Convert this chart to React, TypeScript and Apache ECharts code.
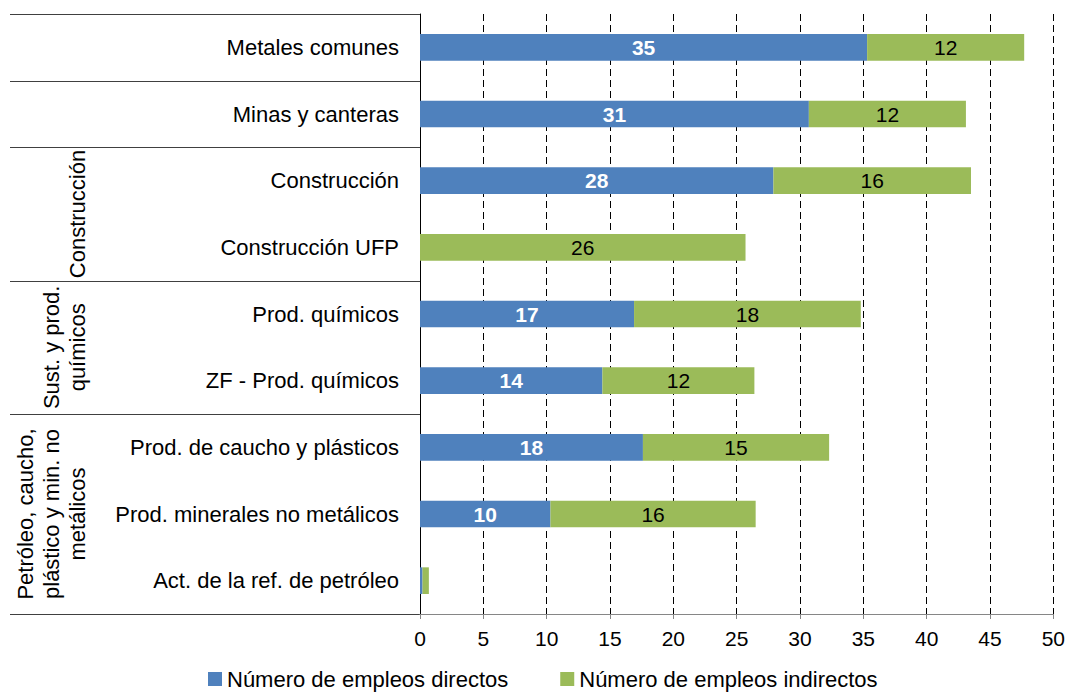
import React, { useEffect, useRef } from "react";
import * as echarts from "echarts";

const categories = [
  "Metales comunes",
  "Minas y canteras",
  "Construcción",
  "Construcción UFP",
  "Prod. químicos",
  "ZF - Prod. químicos",
  "Prod. de caucho y plásticos",
  "Prod. minerales no metálicos",
  "Act. de la ref. de petróleo",
];
const directos = [35.3, 30.7, 27.9, 0, 16.9, 14.4, 17.6, 10.3, 0.2];
const indirectos = [12.4, 12.4, 15.6, 25.7, 17.9, 12.0, 14.7, 16.2, 0.5];
const seriesNames = ["Número de empleos directos", "Número de empleos indirectos"];
const xTicks = { min: 0, max: 50, interval: 5 };

const groupLabels = [
  "Construcción",
  "Sust. y prod.\nquímicos",
  "Petróleo, caucho,\nplástico y min. no\nmetálicos",
];
const groupSpans = [
  [2, 3],
  [4, 5],
  [6, 8],
];
const rowBreaks = [0, 1, 2, 4, 6, 9];

const FONT = "'Liberation Sans', Arial, sans-serif";

export default function App() {
  const ref = useRef<HTMLDivElement>(null);

  useEffect(() => {
    if (!ref.current) return;
    const chart = echarts.init(ref.current, null, { renderer: "svg" });
    const roundLabel = (p: any) => (p.value >= 1 ? String(Math.round(p.value)) : "");
    chart.setOption({
      animation: false,
      textStyle: { fontFamily: FONT },
      grid: { left: 420, right: 14, top: 14, bottom: 80, containLabel: false },
      legend: {
        left: 208,
        top: 667,
        padding: 0,
        itemWidth: 14,
        itemHeight: 14,
        itemGap: 52,
        icon: "rect",
        textStyle: {
          fontSize: 22,
          lineHeight: 24,
          color: "#000",
          fontFamily: FONT,
          padding: [0, 0, 0, 0],
        },
        data: seriesNames,
      },
      xAxis: {
        type: "value",
        min: xTicks.min,
        max: xTicks.max,
        interval: xTicks.interval,
        axisLine: { show: true, lineStyle: { color: "#868686", width: 1 } },
        axisTick: { show: true, length: 5, lineStyle: { color: "#868686" } },
        axisLabel: { fontSize: 21, color: "#000", margin: 14, fontFamily: FONT },
        splitLine: { show: true, lineStyle: { color: "#000", type: [7, 4], width: 1 } },
      },
      yAxis: {
        type: "category",
        inverse: true,
        data: categories,
        axisLine: { show: true, lineStyle: { color: "#000", width: 1 } },
        axisTick: { show: false },
        axisLabel: { fontSize: 22, color: "#000", margin: 21, fontFamily: FONT },
        splitLine: { show: false },
      },
      series: [
        {
          name: seriesNames[0],
          type: "bar",
          stack: "total",
          data: directos,
          barCategoryGap: "60%",
          itemStyle: { color: "#4F81BD" },
          label: {
            show: true,
            position: "inside",
            color: "#fff",
            fontWeight: "bold",
            fontSize: 21,
            fontFamily: FONT,
            formatter: roundLabel,
          },
        },
        {
          name: seriesNames[1],
          type: "bar",
          stack: "total",
          data: indirectos,
          barCategoryGap: "60%",
          itemStyle: { color: "#9BBB59" },
          label: {
            show: true,
            position: "inside",
            color: "#000",
            fontSize: 21,
            fontFamily: FONT,
            formatter: roundLabel,
          },
        },
      ],
    });

    // table decorations on the left, placed from the category axis
    const c0 = chart.convertToPixel({ yAxisIndex: 0 }, categories[0]) as number;
    const c1 = chart.convertToPixel({ yAxisIndex: 0 }, categories[1]) as number;
    const band = c1 - c0;
    const topOf = (i: number) => c0 - band / 2 + i * band;
    const axisX = chart.convertToPixel({ xAxisIndex: 0 }, 0) as number;
    const graphics: any[] = [];
    rowBreaks.forEach((i) => {
      const y = Math.round(topOf(i)) + 0.5;
      graphics.push({
        type: "line",
        shape: { x1: 10, y1: y, x2: axisX, y2: y },
        style: { stroke: "#404040", lineWidth: 1 },
        silent: true,
      });
    });
    groupLabels.forEach((label, gi) => {
      const [a, b] = groupSpans[gi];
      const cy = (topOf(a) + topOf(b + 1)) / 2;
      const n = label.split("\n").length;
      graphics.push({
        type: "text",
        x: 77 - (n - 1) * 13,
        y: cy,
        rotation: Math.PI / 2,
        style: {
          text: label,
          font: `22px ${FONT}`,
          fontSize: 22,
          fontFamily: FONT,
          fill: "#000",
          align: "center",
          verticalAlign: "middle",
          lineHeight: 26,
        },
        silent: true,
      });
    });
    chart.setOption({ graphic: graphics });

    return () => chart.dispose();
  }, []);

  return (
    <div
      ref={ref}
      style={{ position: "absolute", left: 0, top: 0, width: 1068, height: 694, background: "#fff" }}
    />
  );
}
